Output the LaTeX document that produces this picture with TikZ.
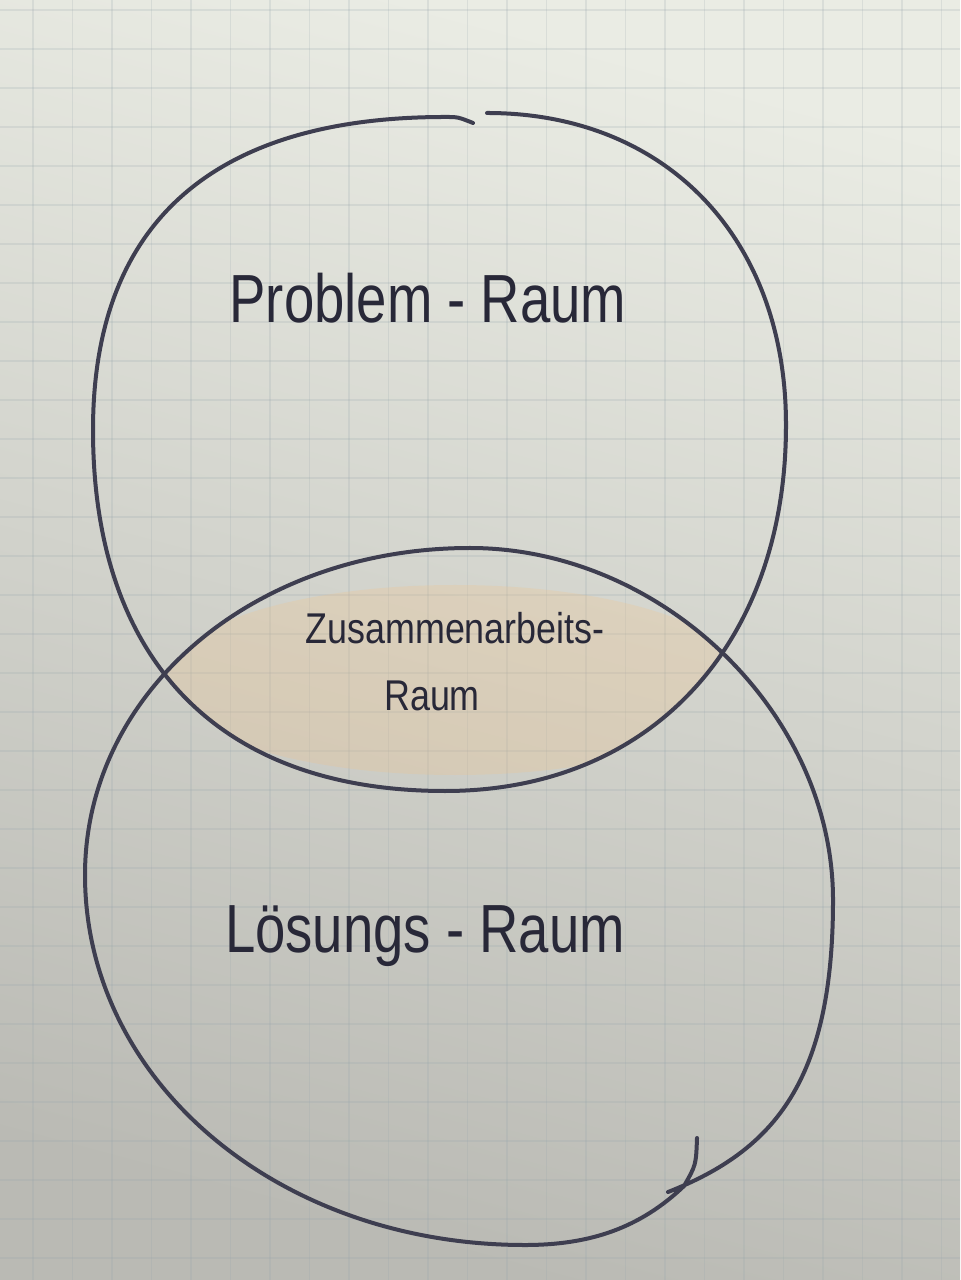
\documentclass[tikz,border=0pt]{standalone}
\usepackage{fontspec}
\setmainfont{Liberation Sans}
\definecolor{paperlight}{RGB}{234,236,228}
\definecolor{paperdark}{RGB}{186,186,180}
\definecolor{gridline}{RGB}{150,165,172}
\definecolor{penink}{RGB}{62,62,80}
\definecolor{textink}{RGB}{40,40,56}
\definecolor{wash}{RGB}{242,196,138}
\begin{document}
\begin{tikzpicture}[x=0.01cm,y=-0.01cm,
  pen/.style={draw=penink,line width=0.04cm,line cap=round,line join=round},
  gridrule/.style={gridline,opacity=0.2,line width=0.012cm},
  bigword/.style={text=textink,font=\fontsize{15.5}{18}\selectfont,anchor=base,yscale=1.25,transform shape,inner sep=0pt},
  smallword/.style={text=textink,font=\fontsize{10.2}{12}\selectfont,anchor=base,yscale=1.2,transform shape,inner sep=0pt}]
% paper
\shade[top color=paperlight,bottom color=paperdark,shading angle=-15] (0,0) rectangle (960,1280);
\useasboundingbox (0,0) rectangle (960,1280);
% squared grid
\foreach \gx in {0,...,24} {
  \draw[gridrule] ({33+39.5*\gx},0) -- ({33+39.5*\gx},1280);
}
\foreach \gy in {0,...,32} {
  \draw[gridrule] (0,{10+39*\gy}) -- (960,{10+39*\gy});
}
% extreme points of the two loops
\coordinate (uS) at (487,113);
\coordinate (uR) at (786,425);
\coordinate (uB) at (445,791);
\coordinate (uL) at (93,430);
\coordinate (uT) at (445,117);
\coordinate (uE) at (473,123);
\coordinate (lT) at (470,548);
\coordinate (lR) at (833,900);
\coordinate (lB) at (525,1245);
\coordinate (lL) at (85,875);
% orange wash in the overlap
\begin{scope}
  \clip (uS) .. controls (666,113) and (786,238) .. (uR)
        .. controls (786,645) and (650,791) .. (uB)
        .. controls (220,791) and (93,661) .. (uL)
        .. controls (93,223) and (213,117) .. (uT) -- cycle;
  \clip (lT) .. controls (662,548) and (833,713) .. (lR)
        .. controls (833,1107) and (710,1245) .. (lB)
        .. controls (279,1245) and (85,1082) .. (lL)
        .. controls (85,692) and (254,548) .. (lT) -- cycle;
  \fill[wash,opacity=0.26] (455,680) ellipse [x radius=290,y radius=95];
\end{scope}
% upper loop, open at the top where the pen starts and stops
\draw[pen] (uS) .. controls (666,113) and (786,238) .. (uR)
  .. controls (786,645) and (650,791) .. (uB)
  .. controls (220,791) and (93,661) .. (uL)
  .. controls (93,223) and (213,117) .. (uT)
  .. controls (458,117) .. (uE);
% lower loop, with the small hook where the pen set down
\draw[pen] (697,1138) .. controls (696,1165) .. (684,1186)
  .. controls (640,1228) and (590,1245) .. (lB)
  .. controls (279,1245) and (85,1082) .. (lL)
  .. controls (85,692) and (254,548) .. (lT)
  .. controls (662,548) and (833,713) .. (lR)
  .. controls (833,1080) and (775,1150) .. (668,1192);
% labels
\node[bigword] (problem) at (428,323) {Problem - Raum};
\node[smallword] (zusammen) at (455,643) {Zusammenarbeits-};
\node[smallword] (zraum) at (432,710) {Raum};
\node[bigword] (loesung) at (425,952) {Lösungs - Raum};
\end{tikzpicture}
\end{document}
